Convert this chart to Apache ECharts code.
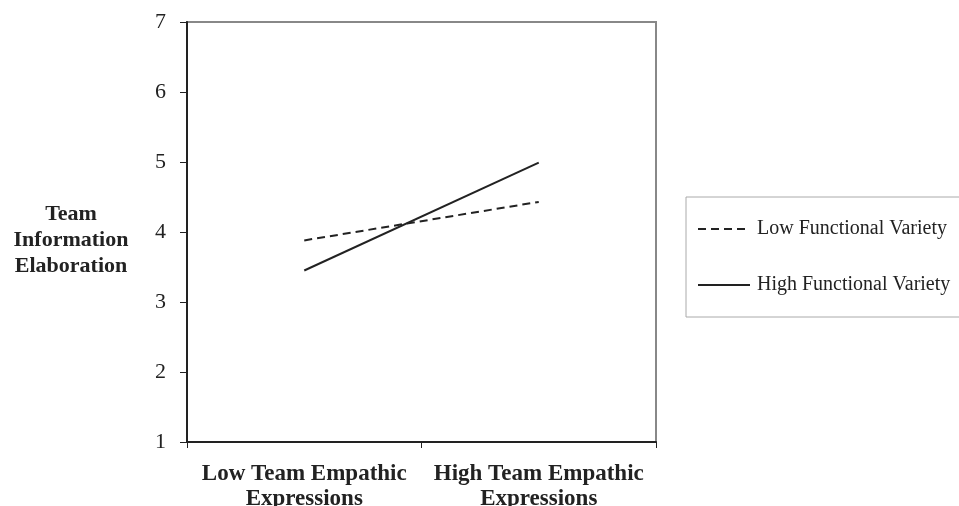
<!DOCTYPE html>
<html>
<head>
<meta charset="utf-8">
<script src="https://cdn.jsdelivr.net/npm/echarts@6/dist/echarts.min.js"></script>
<style>
  html, body { margin: 0; padding: 0; background: #fff; }
  #chart { width: 959px; height: 506px; }
</style>
</head>
<body>
<div id="chart"></div>
<script>
// categories on the x axis
var categories = ['Low Team Empathic\nExpressions', 'High Team Empathic\nExpressions']
// series values
var lowVariety = [3.88, 4.43]
var highVariety = [3.45, 4.99]
var seriesNames = ['Low Functional Variety', 'High Functional Variety']
var yTitle = 'Team\nInformation\nElaboration'

var serif = "'Liberation Serif', 'Times New Roman', serif"
var ink = '#222'

var myChart = echarts.init(document.getElementById('chart'))
var option = {
  animation: false,
  grid: {
    left: 187,
    right: 303,
    top: 22,
    bottom: 64,
    outerBoundsMode: 'none',
    containLabel: false,
    show: true,
    borderColor: '#888',
    borderWidth: 2
  },
  // y axis title, set beside the axis
  graphic: [{
    type: 'text',
    x: 71,
    y: 240,
    style: {
      text: yTitle,
      align: 'center',
      verticalAlign: 'middle',
      font: 'bold 22px ' + serif,
      lineHeight: 26,
      fill: ink
    }
  }],
  legend: {
    orient: 'vertical',
    left: 686,
    top: 197,
    padding: [22, 12, 22, 11],
    itemGap: 36,
    itemWidth: 52,
    itemHeight: 14,
    borderColor: '#aaa',
    borderWidth: 1,
    itemStyle: { color: 'transparent', borderWidth: 0 },
    textStyle: { fontFamily: serif, fontSize: 20, color: ink, padding: [0, 0, 0, 2] },
    data: seriesNames
  },
  xAxis: {
    type: 'category',
    data: categories,
    boundaryGap: true,
    axisLine: { lineStyle: { color: ink, width: 2 } },
    axisTick: { show: true, interval: 0, length: 6, lineStyle: { color: ink } },
    axisLabel: {
      interval: 0,
      margin: 20,
      fontFamily: serif,
      fontWeight: 'bold',
      fontSize: 23,
      lineHeight: 25,
      color: ink
    }
  },
  yAxis: {
    type: 'value',
    min: 1,
    max: 7,
    interval: 1,
    splitLine: { show: false },
    axisLine: { show: true, lineStyle: { color: ink, width: 2 } },
    axisTick: { show: true, length: 7, lineStyle: { color: ink } },
    axisLabel: {
      margin: 21,
      fontFamily: serif,
      fontSize: 22,
      color: ink
    }
  },
  series: [{
    name: seriesNames[0],
    type: 'line',
    symbol: 'none',
    data: lowVariety,
    lineStyle: { color: ink, width: 2, type: [8, 5] },
    itemStyle: { color: ink }
  }, {
    name: seriesNames[1],
    type: 'line',
    symbol: 'none',
    data: highVariety,
    lineStyle: { color: ink, width: 2 },
    itemStyle: { color: ink }
  }]
}
myChart.setOption(option)
</script>
</body>
</html>
